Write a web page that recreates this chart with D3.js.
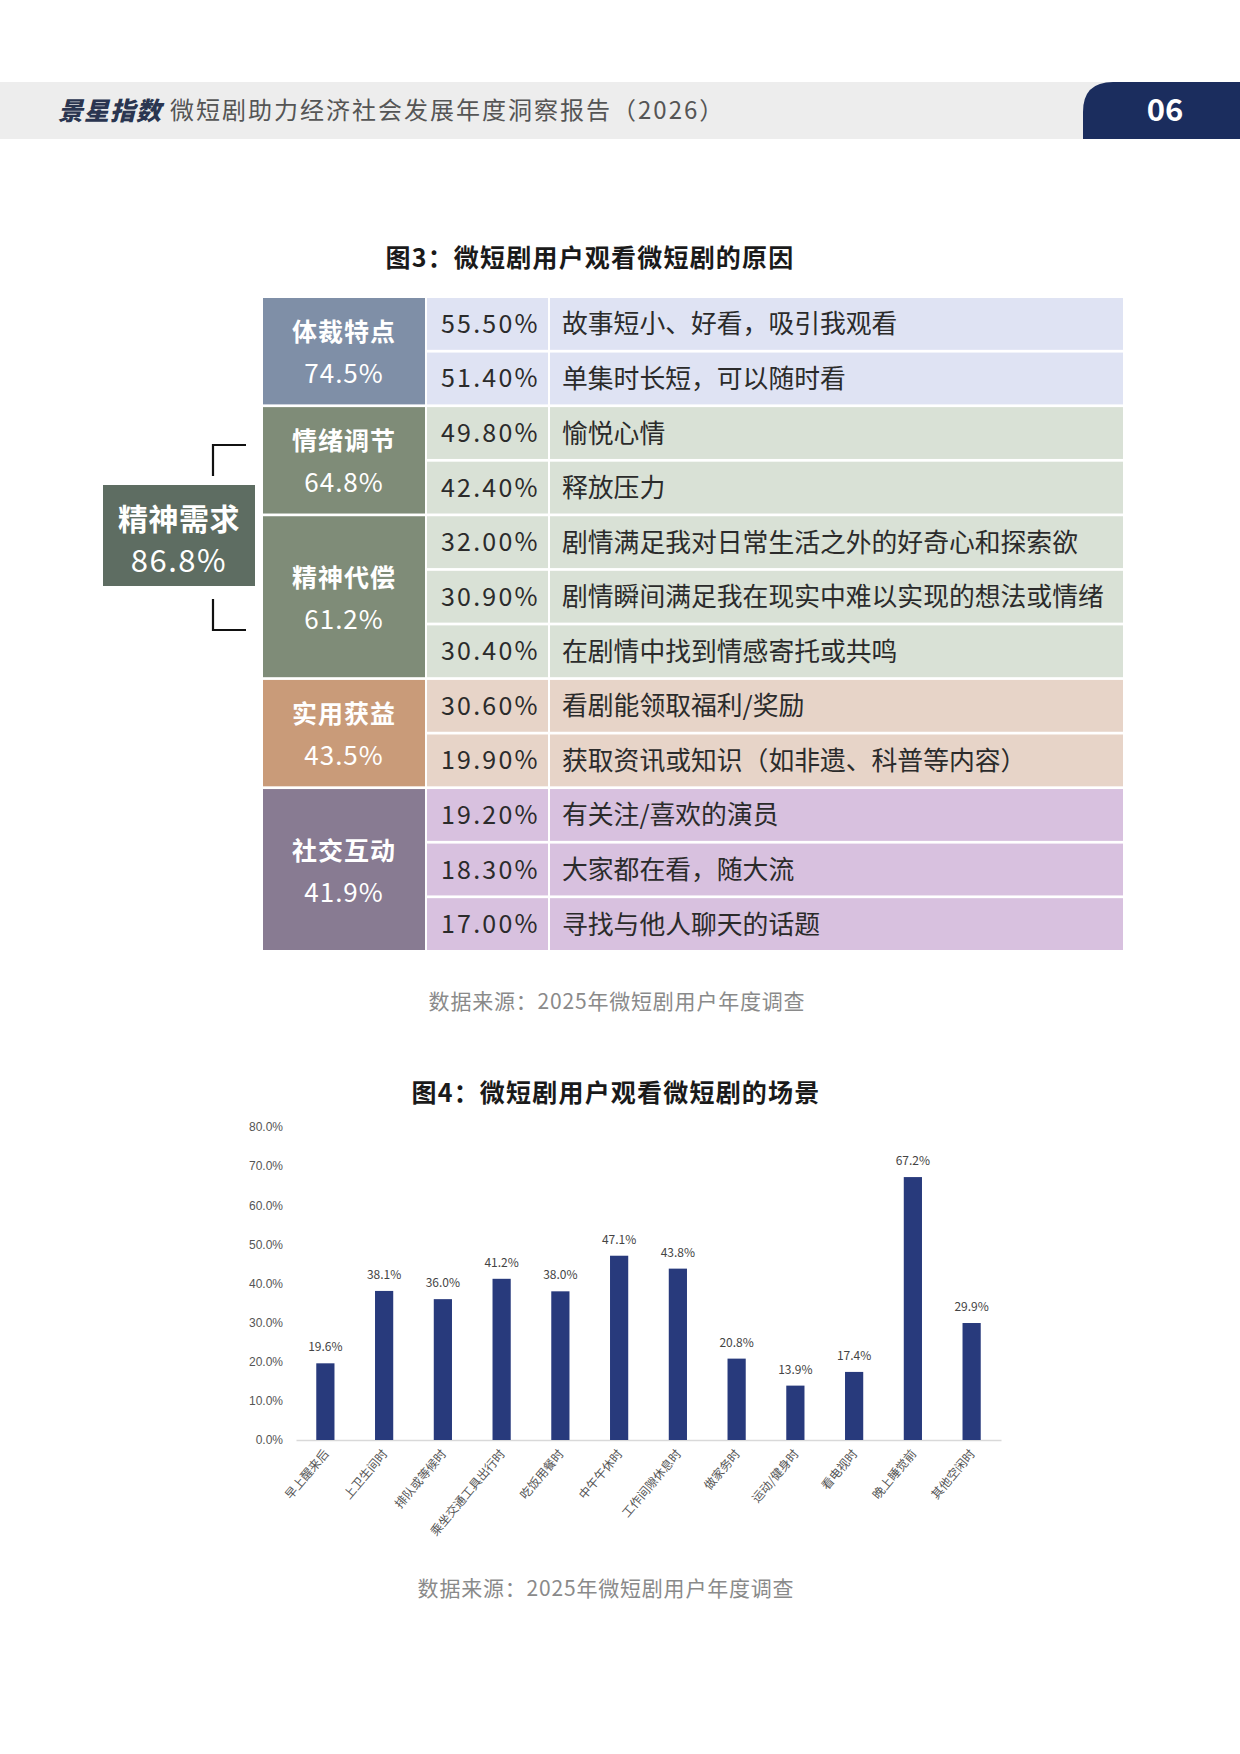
<!DOCTYPE html>
<html>
<head>
<meta charset="utf-8">
<script src="https://cdn.jsdelivr.net/npm/d3@7/dist/d3.min.js"></script>
<style>
  html, body { margin: 0; padding: 0; background: #fff; }
  svg { display: block; }
  text { font-family: "Noto Sans CJK SC", "Noto Sans", sans-serif; }
</style>
</head>
<body>
<svg id="page" width="1240" height="1754"></svg>
<script>
// ---------- DATA ----------
const headerTitle = "微短剧助力经济社会发展年度洞察报告（2026）";
const pageNumber = "06";
const logoText = "景星指数";

const fig3Title = "图3：微短剧用户观看微短剧的原因";
const parentLabel = "精神需求";
const parentShare = "86.8%";
const groupNames = ["体裁特点", "情绪调节", "精神代偿", "实用获益", "社交互动"];
const groupShares = ["74.5%", "64.8%", "61.2%", "43.5%", "41.9%"];
const reasonGroup = [0, 0, 1, 1, 2, 2, 2, 3, 3, 4, 4, 4];
const reasonValues = [55.5, 51.4, 49.8, 42.4, 32.0, 30.9, 30.4, 30.6, 19.9, 19.2, 18.3, 17.0];
const reasonLabels = [
  "故事短小、好看，吸引我观看",
  "单集时长短，可以随时看",
  "愉悦心情",
  "释放压力",
  "剧情满足我对日常生活之外的好奇心和探索欲",
  "剧情瞬间满足我在现实中难以实现的想法或情绪",
  "在剧情中找到情感寄托或共鸣",
  "看剧能领取福利/奖励",
  "获取资讯或知识（如非遗、科普等内容）",
  "有关注/喜欢的演员",
  "大家都在看，随大流",
  "寻找与他人聊天的话题"
];
const sourceNote = "数据来源：2025年微短剧用户年度调查";

const fig4Title = "图4：微短剧用户观看微短剧的场景";
const sceneLabels = ["早上醒来后", "上卫生间时", "排队或等候时", "乘坐交通工具出行时", "吃饭用餐时", "中午午休时",
  "工作间隙休息时", "做家务时", "运动/健身时", "看电视时", "晚上睡觉前", "其他空闲时"];
const sceneValues = [19.6, 38.1, 36.0, 41.2, 38.0, 47.1, 43.8, 20.8, 13.9, 17.4, 67.2, 29.9];
const yTicks = [0, 10, 20, 30, 40, 50, 60, 70, 80];

// ---------- STYLE ----------
const groupDark = ["#7f8fa7", "#7f8c78", "#7f8c78", "#c99b79", "#887b92"];
const groupLight = ["#dfe3f3", "#d9e1d6", "#d9e1d6", "#e7d4c8", "#d8c1df"];
const parentColor = "#5e6d62";
const barColor = "#283a7c";

const svg = d3.select("#page");

// ---------- HEADER ----------
svg.append("rect").attr("x", 0).attr("y", 82).attr("width", 1240).attr("height", 57).attr("fill", "#ededed");
svg.append("path")
  .attr("d", "M1083,139 L1083,112 Q1083,82 1113,82 L1240,82 L1240,139 Z")
  .attr("fill", "#1b2d5e");
svg.append("text").attr("x", 1165).attr("y", 121).attr("text-anchor", "middle")
  .attr("font-size", 31).attr("font-weight", 700).attr("fill", "#fff").text(pageNumber);
svg.append("text").attr("x", 58).attr("y", 120)
  .attr("font-size", 25).attr("font-weight", 900).attr("fill", "#2a3550")
  .attr("font-style", "italic").attr("letter-spacing", 1).text(logoText);
svg.append("text").attr("x", 170).attr("y", 119)
  .attr("font-size", 24).attr("letter-spacing", 2).attr("fill", "#555").text(headerTitle);

// ---------- FIGURE 3 ----------
svg.append("text").attr("x", 590).attr("y", 267).attr("text-anchor", "middle")
  .attr("font-size", 25).attr("letter-spacing", 1.2).attr("font-weight", 700).attr("fill", "#1a1a1a").text(fig3Title);

const rowScale = d3.scaleBand().domain(d3.range(reasonLabels.length)).range([298, 950]).paddingInner(0.05);
const colGroup = [263, 425], colPct = [427, 548], colText = [550, 1123];

const rows = svg.append("g");
reasonLabels.forEach((lab, i) => {
  const y = rowScale(i), h = rowScale.bandwidth(), g = reasonGroup[i];
  rows.append("rect").attr("x", colPct[0]).attr("y", y).attr("width", colPct[1] - colPct[0]).attr("height", h).attr("fill", groupLight[g]);
  rows.append("rect").attr("x", colText[0]).attr("y", y).attr("width", colText[1] - colText[0]).attr("height", h).attr("fill", groupLight[g]);
  rows.append("text").attr("x", 441).attr("y", y + h / 2 + 9)
    .attr("font-size", 25).attr("letter-spacing", 2.2).attr("fill", "#2b2b2b").text(reasonValues[i].toFixed(2) + "%");
  rows.append("text").attr("x", 562).attr("y", y + h / 2 + 9.5)
    .attr("font-size", 25.8).attr("fill", "#2b2b2b").text(lab);
});

groupNames.forEach((name, g) => {
  const idx = reasonGroup.map((v, i) => v === g ? i : -1).filter(i => i >= 0);
  const y0 = rowScale(idx[0]), y1 = rowScale(idx[idx.length - 1]) + rowScale.bandwidth();
  const cx = (colGroup[0] + colGroup[1]) / 2, cy = (y0 + y1) / 2;
  svg.append("rect").attr("x", colGroup[0]).attr("y", y0).attr("width", colGroup[1] - colGroup[0]).attr("height", y1 - y0).attr("fill", groupDark[g]);
  svg.append("text").attr("x", cx).attr("y", cy - 10).attr("text-anchor", "middle")
    .attr("font-size", 25).attr("letter-spacing", 1).attr("font-weight", 700).attr("fill", "#fff").text(name);
  svg.append("text").attr("x", cx).attr("y", cy + 32).attr("text-anchor", "middle")
    .attr("font-size", 26).attr("letter-spacing", 1).attr("fill", "#fff").text(groupShares[g]);
});

// parent box + bracket
svg.append("rect").attr("x", 103).attr("y", 485).attr("width", 152).attr("height", 101).attr("fill", parentColor);
svg.append("text").attr("x", 179).attr("y", 530).attr("text-anchor", "middle")
  .attr("font-size", 30).attr("letter-spacing", 0.5).attr("font-weight", 700).attr("fill", "#fff").text(parentLabel);
svg.append("text").attr("x", 179).attr("y", 572).attr("text-anchor", "middle")
  .attr("font-size", 31).attr("letter-spacing", 1.5).attr("fill", "#fff").text(parentShare);
svg.append("path").attr("d", "M246,445 L213,445 L213,476").attr("fill", "none").attr("stroke", "#111").attr("stroke-width", 2.2);
svg.append("path").attr("d", "M213,599 L213,630 L246,630").attr("fill", "none").attr("stroke", "#111").attr("stroke-width", 2.2);

svg.append("text").attr("x", 617).attr("y", 1009).attr("text-anchor", "middle")
  .attr("font-size", 21).attr("letter-spacing", 0.8).attr("fill", "#8a8a8a").text(sourceNote);

// ---------- FIGURE 4 ----------
svg.append("text").attr("x", 616).attr("y", 1102).attr("text-anchor", "middle")
  .attr("font-size", 25).attr("letter-spacing", 1.2).attr("font-weight", 700).attr("fill", "#1a1a1a").text(fig4Title);

const x = d3.scaleBand().domain(sceneLabels).range([296, 1001]).paddingInner(0.69).paddingOuter(0.345);
const y = d3.scaleLinear().domain([0, 80]).range([1440, 1127]);
const chart = svg.append("g").style("font-family", "'Liberation Sans Narrow', 'Liberation Sans', sans-serif");

const yAxis = d3.axisLeft(y).tickValues(yTicks).tickFormat(d => d.toFixed(1) + "%").tickSize(0).tickPadding(0);
const yg = chart.append("g").attr("transform", "translate(283,0)").call(yAxis);
yg.select(".domain").remove();
yg.selectAll("text").attr("font-size", 12).attr("fill", "#555")
  .style("font-family", "'Liberation Sans Narrow', 'Liberation Sans', sans-serif");

const xAxis = d3.axisBottom(x).tickSize(0).tickPadding(0);
const xg = chart.append("g").attr("transform", "translate(0,1440)").call(xAxis);
xg.select(".domain").attr("stroke", "#d9d9d9").attr("stroke-width", 1.5);
xg.selectAll("text")
  .attr("font-size", 12).attr("fill", "#555")
  .style("font-family", "'Noto Sans CJK SC', sans-serif")
  .attr("text-anchor", "end").attr("dy", null).attr("y", 0)
  .attr("transform", "translate(4,14) rotate(-50)");

chart.selectAll("rect.bar").data(sceneValues).enter().append("rect")
  .attr("class", "bar")
  .attr("x", (d, i) => x(sceneLabels[i]))
  .attr("y", d => y(d))
  .attr("width", x.bandwidth())
  .attr("height", d => y(0) - y(d))
  .attr("fill", barColor);

chart.selectAll("text.val").data(sceneValues).enter().append("text")
  .attr("class", "val")
  .attr("x", (d, i) => x(sceneLabels[i]) + x.bandwidth() / 2)
  .attr("y", d => y(d) - 12)
  .attr("text-anchor", "middle").attr("font-size", 12).attr("fill", "#444")
  .text(d => d.toFixed(1) + "%");

svg.append("text").attr("x", 606).attr("y", 1596).attr("text-anchor", "middle")
  .attr("font-size", 21).attr("letter-spacing", 0.8).attr("fill", "#8a8a8a").text(sourceNote);
</script>
</body>
</html>
